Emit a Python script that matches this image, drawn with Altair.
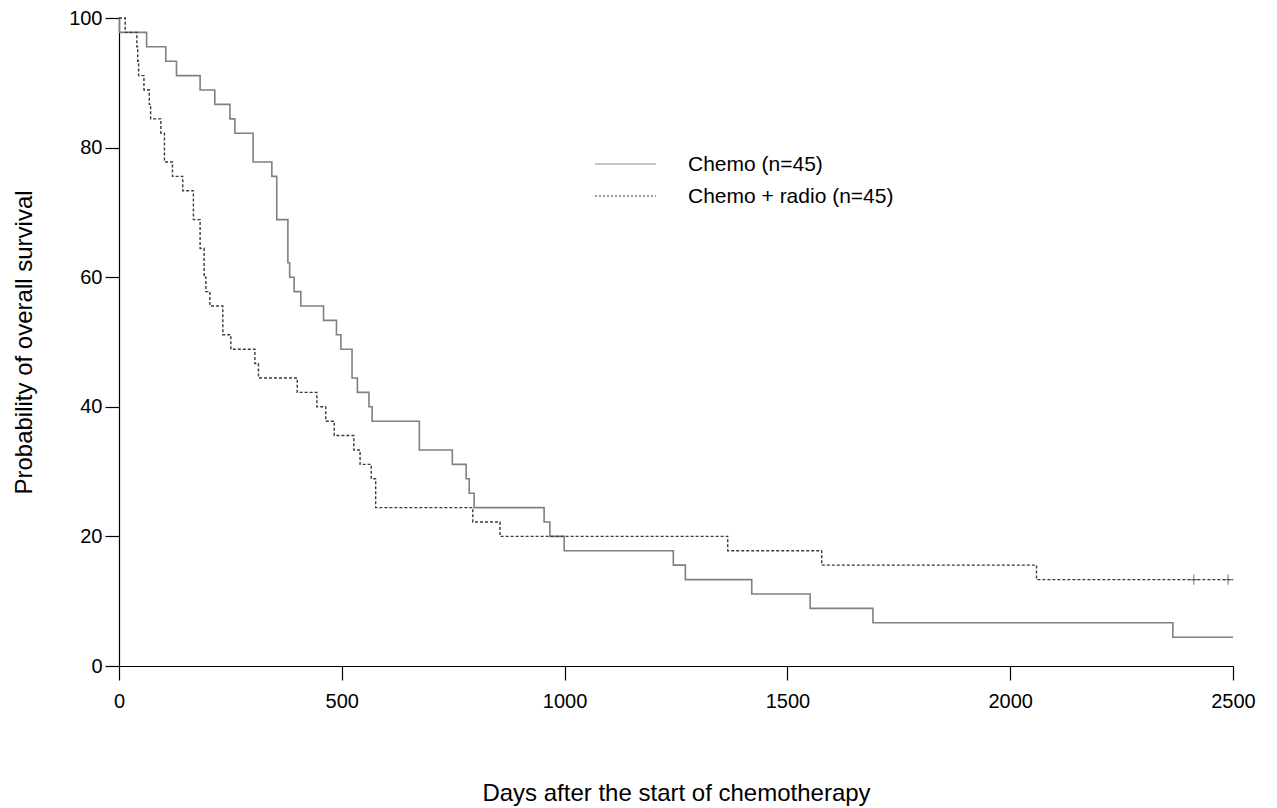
import altair as alt
import pandas as pd

# Kaplan-Meier step curves (days, survival %)
chemo_days = [0, 1, 62, 105, 129, 182, 215, 249, 260, 301, 343, 354, 379, 383, 393, 408,
              459, 488, 498, 523, 535, 561, 568, 674, 748, 779, 786, 797, 954, 967, 999,
              1244, 1271, 1420, 1551, 1692, 2365, 2500]
chemo_surv = [100, 97.78, 95.56, 93.33, 91.11, 88.89, 86.67, 84.44, 82.22, 77.78, 75.56, 68.89,
              62.22, 60.0, 57.78, 55.56, 53.33, 51.11, 48.89, 44.44, 42.22, 40.0, 37.78, 33.33,
              31.11, 28.89, 26.67, 24.44, 22.22, 20.0, 17.78, 15.56, 13.33, 11.11, 8.89, 6.67,
              4.44, 4.44]

radio_days = [0, 14, 40, 42, 44, 56, 68, 71, 94, 102, 120, 143, 167, 182, 191, 195, 204, 233,
              251, 305, 313, 400, 444, 464, 483, 527, 541, 566, 576, 794, 855, 1366, 1577, 2059,
              2500]
radio_surv = [100, 97.78, 95.56, 93.33, 91.11, 88.89, 86.67, 84.44, 82.22, 77.78, 75.56, 73.33,
              68.89, 64.44, 60.0, 57.78, 55.56, 51.11, 48.89, 46.67, 44.44, 42.22, 40.0, 37.78,
              35.56, 33.33, 31.11, 28.89, 24.44, 22.22, 20.0, 17.78, 15.56, 13.33, 13.33]

censor_days = [2412, 2489]
censor_surv = [13.33, 13.33]

series_labels = ["Chemo (n=45)", "Chemo + radio (n=45)"]
x_ticks = [0, 500, 1000, 1500, 2000, 2500]
y_ticks = [0, 20, 40, 60, 80, 100]

FONT = "Liberation Sans"

chemo_df = pd.DataFrame({"day": chemo_days, "surv": chemo_surv})
radio_df = pd.DataFrame({"day": radio_days, "surv": radio_surv})
censor_df = pd.DataFrame({"day": censor_days, "surv": censor_surv})
leg1_df = pd.DataFrame({"label": [series_labels[0]]})
leg2_df = pd.DataFrame({"label": [series_labels[1]]})

xscale = alt.Scale(domain=[0, 2500], nice=False, zero=False)
yscale = alt.Scale(domain=[0, 100], nice=False)

x_axis = alt.Axis(values=x_ticks, format="d", title="Days after the start of chemotherapy",
                  titleX=557, titleY=127, titleBaseline="middle", titleAlign="center",
                  labelPadding=11, tickSize=14, labelFlush=False)
y_axis = alt.Axis(values=y_ticks, format="d", title="Probability of overall survival",
                  titleX=-95, titleY=324, titleAngle=270, titleBaseline="middle",
                  titleAlign="center", labelPadding=3, tickSize=14, labelFlush=False)

chemo_line = alt.Chart(chemo_df).mark_line(
    interpolate="step-after", color="#808080", strokeWidth=1.6
).encode(
    x=alt.X("day:Q", scale=xscale, axis=x_axis),
    y=alt.Y("surv:Q", scale=yscale, axis=y_axis),
)

radio_line = alt.Chart(radio_df).mark_line(
    interpolate="step-after", color="#3a3a3a", strokeWidth=1.4, strokeDash=[3, 2]
).encode(
    x=alt.X("day:Q", scale=xscale),
    y=alt.Y("surv:Q", scale=yscale),
)

censor_marks = alt.Chart(censor_df).mark_point(
    shape="M-1,0L1,0M0,-1L0,1", size=110, color="#555555", strokeWidth=1.2, filled=False
).encode(
    x=alt.X("day:Q", scale=xscale),
    y=alt.Y("surv:Q", scale=yscale),
)

leg_solid = alt.Chart(leg1_df).mark_rule(color="#8c8c8c", strokeWidth=1.1).encode(
    x=alt.value(476), x2=alt.value(537), y=alt.value(146)
)
leg_dot = alt.Chart(leg2_df).mark_rule(color="#333333", strokeWidth=1.1, strokeDash=[2, 2]).encode(
    x=alt.value(476), x2=alt.value(537), y=alt.value(178)
)
leg_text1 = alt.Chart(leg1_df).mark_text(
    align="left", baseline="middle", font=FONT, fontSize=21, color="black"
).encode(x=alt.value(569), y=alt.value(147), text="label:N")
leg_text2 = alt.Chart(leg2_df).mark_text(
    align="left", baseline="middle", font=FONT, fontSize=21, color="black"
).encode(x=alt.value(569), y=alt.value(179), text="label:N")

chart = alt.layer(
    chemo_line, radio_line, censor_marks, leg_solid, leg_dot, leg_text1, leg_text2
).properties(
    width=1114, height=648,
    padding={"left": 111, "top": 10, "right": 36, "bottom": 140},
    autosize=alt.AutoSizeParams(type="none"),
).configure_view(
    stroke=None
).configure_axis(
    grid=False, domainColor="black", tickColor="black", domainWidth=1.2, tickWidth=1.2,
    labelFont=FONT, labelFontSize=20, labelColor="black",
    titleFont=FONT, titleFontSize=24, titleFontWeight="normal", titleColor="black",
)

chart.save("out.html", embed_options={"renderer": "svg", "actions": False})
